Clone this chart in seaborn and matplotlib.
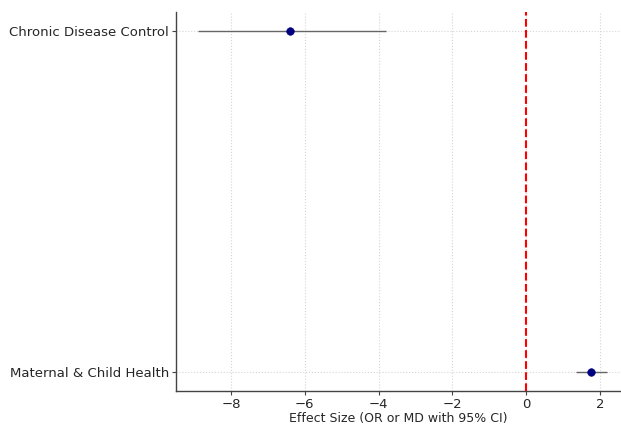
import pandas as pd
import matplotlib.pyplot as plt
import seaborn as sns

outcomes = ['Maternal & Child Health', 'Chronic Disease Control']
effects = [1.76, -6.41]
ci_low = [1.35, -8.89]
ci_high = [2.19, -3.81]

df = pd.DataFrame({'Outcome': outcomes, 'Effect': effects, 'Low': ci_low, 'High': ci_high})
df['pos'] = range(len(df))

sns.set_style('white')
fig = plt.figure(figsize=(6.21, 4.26), dpi=100)
ax = fig.add_axes([0.2834, 0.082, 0.7166, 0.89])

ax.hlines(df['pos'], df['Low'], df['High'], color='#666666', linewidth=1, zorder=2)
sns.scatterplot(data=df, x='Effect', y='pos', color='navy', s=30, edgecolor='navy', zorder=3, ax=ax)
ax.axvline(0, color='red', linestyle='--', linewidth=1.5, zorder=4)

ax.set_yticks(df['pos'])
ax.set_yticklabels(df['Outcome'], fontsize=9.5)
ax.set_ylim(-0.055, 1.055)
ax.set_xlim(-9.49, 2.57)
ax.set_xticks([-8, -6, -4, -2, 0, 2])
ax.set_xticklabels(['\u22128', '\u22126', '\u22124', '\u22122', '0', '2'], fontsize=9.5)
ax.tick_params(axis='both', length=3, pad=2, direction='out', color='#444444', left=True, bottom=True)
ax.set_xlabel('Effect Size (OR or MD with 95% CI)', fontsize=9, labelpad=1)
ax.set_ylabel('')
ax.grid(True, linestyle=':', color='#d5d5d5', linewidth=0.8)
ax.set_axisbelow(True)
sns.despine(ax=ax, top=True, right=True)
for s in ['left', 'bottom']:
    ax.spines[s].set_color('#444444')
    ax.spines[s].set_linewidth(1)

fig.savefig('out.png', dpi=100)
